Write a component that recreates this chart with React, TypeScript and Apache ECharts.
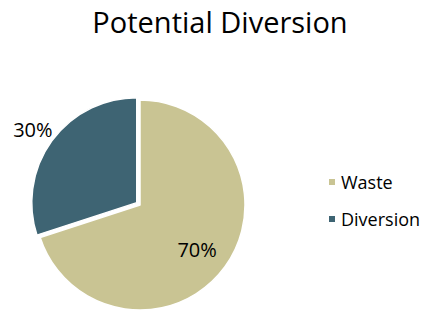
import React, { useEffect, useRef } from "react";
import * as echarts from "echarts";

const titleText = "Potential Diversion";
const categories = ["Waste", "Diversion"];
const values = [70, 30];
const colors = ["#C9C493", "#3E6473"];

export default function App() {
  const ref = useRef<HTMLDivElement>(null);
  useEffect(() => {
    if (!ref.current) return;
    const chart = echarts.init(ref.current, undefined, { renderer: "svg" });
    const font = "'Open Sans', sans-serif";
    const center = [140, 205];
    chart.setOption({
      animation: false,
      backgroundColor: "#ffffff",
      title: {
        text: titleText,
        left: 215,
        textAlign: "center",
        top: 2,
        textStyle: { fontFamily: font, fontSize: 29, fontWeight: "normal", color: "#000" },
      },
      legend: {
        orient: "vertical",
        left: 322,
        top: 168,
        icon: "rect",
        itemWidth: 8,
        itemHeight: 8,
        itemGap: 19,
        data: categories.map((c, i) => ({ name: c, itemStyle: { color: colors[i] } })),
        textStyle: { fontFamily: font, fontSize: 18, color: "#000" },
      },
      series: [
        {
          type: "pie",
          center,
          radius: [0, 105],
          startAngle: 90,
          clockwise: true,
          selectedMode: "single",
          selectedOffset: 4,
          label: { show: false },
          labelLine: { show: false },
          itemStyle: { borderColor: "#fff", borderWidth: 1.5 },
          emphasis: { disabled: true },
          data: categories.map((c, i) => ({
            name: c,
            value: values[i],
            selected: c === "Diversion",
            itemStyle: { color: colors[i] },
          })),
        },
        {
          type: "pie",
          center,
          radius: [40, 105],
          startAngle: 90,
          clockwise: true,
          silent: true,
          avoidLabelOverlap: false,
          legendHoverLink: false,
          itemStyle: { color: "rgba(0,0,0,0)" },
          emphasis: { disabled: true },
          labelLayout: (p: any) => (p.dataIndex === 1 ? { dx: 9, dy: -9 } : { dx: -4, dy: 0 }),
          data: categories.map((c, i) => ({
            name: c,
            value: values[i],
            itemStyle: { color: "rgba(0,0,0,0)" },
            label:
              c === "Diversion"
                ? { show: true, position: "outside", overflow: "none", formatter: "{d}%", fontFamily: font, fontSize: 20, color: "#000" }
                : { show: true, position: "inside", formatter: "{d}%", fontFamily: font, fontSize: 20, color: "#000" },
            labelLine: { show: false, length: 8, length2: 0 },
          })),
        },
      ],
    });
    return () => chart.dispose();
  }, []);
  return <div ref={ref} style={{ position: "fixed", left: 0, top: 0, width: 443, height: 311 }} />;
}
